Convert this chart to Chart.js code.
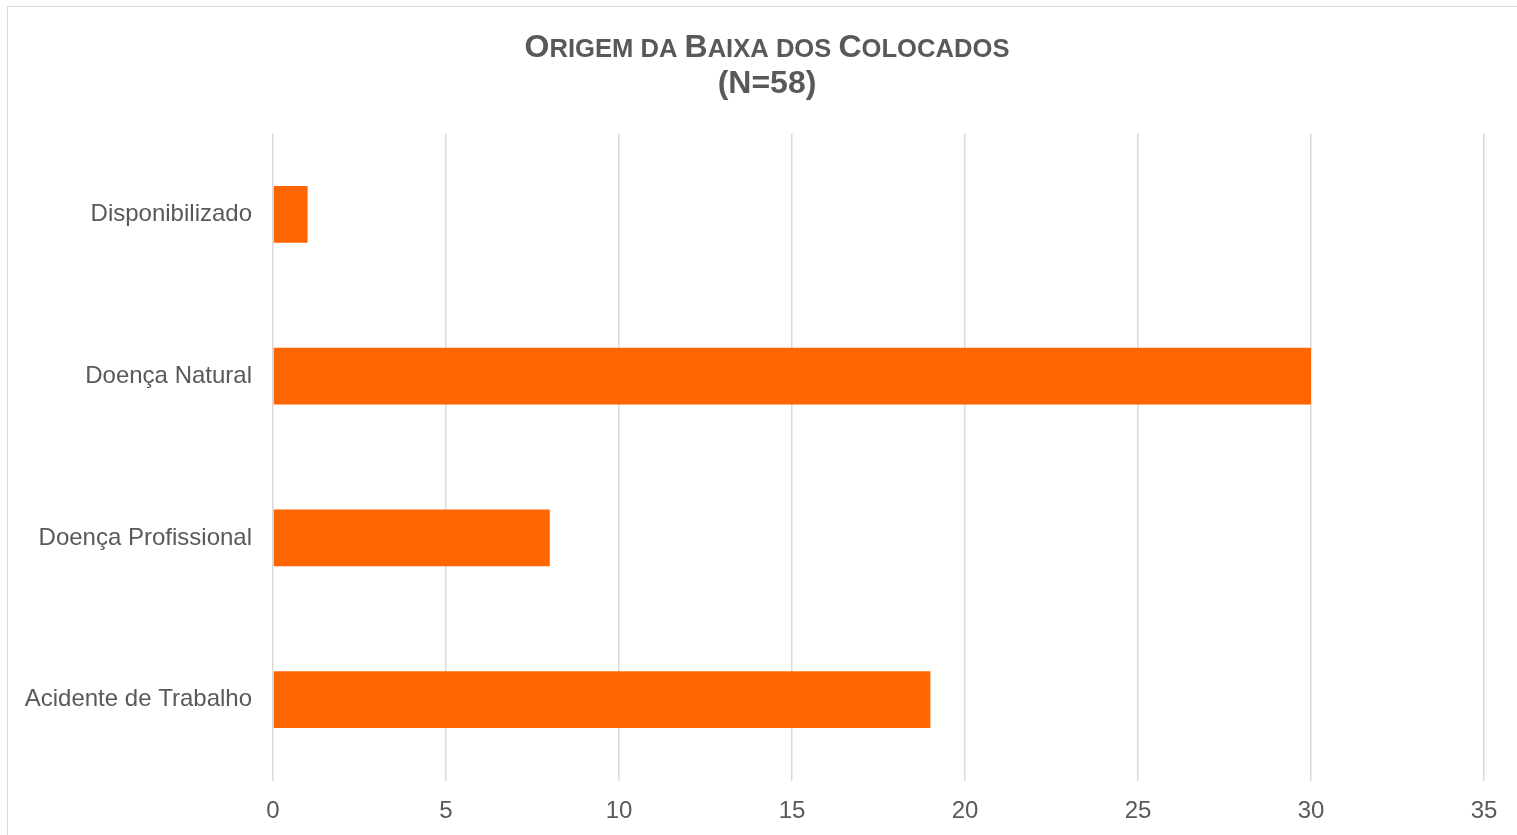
<!DOCTYPE html>
<html lang="pt">
<head>
<meta charset="utf-8">
<title>Origem da Baixa dos Colocados</title>
<script src="https://cdn.jsdelivr.net/npm/chart.js@4.4.1/dist/chart.umd.min.js"></script>
<style>
  html, body { margin: 0; padding: 0; background: #fff; overflow: hidden; }
  #chartBox {
    position: absolute;
    left: 7px;
    top: 6px;
    width: 1518px;
    height: 860px;
    border: 1px solid #d9d9d9;
    background: #fff;
  }
  #chartBox canvas { display: block; }
</style>
</head>
<body>
<div id="chartBox">
  <canvas id="baixaChart" width="1518" height="860"></canvas>
</div>
<script>
// Origem da baixa dos colocados, N = 58
const categorias = ['Disponibilizado', 'Doença Natural', 'Doença Profissional', 'Acidente de Trabalho'];
const quantidades = [1, 30, 8, 19];
const eixoMin = 0;
const eixoMax = 35;
const eixoPasso = 5;

const total = quantidades.reduce((a, b) => a + b, 0);
const tituloLinha1 = 'Origem da Baixa dos Colocados';
const tituloLinha2 = '(N=' + total + ')';

const textoCinza = '#595959';
const linhaCinza = '#d9d9d9';
const laranja = '#ff6600';
const familia = '"Liberation Sans", Arial, Helvetica, sans-serif';

// Title line 1 in small caps (lowercase drawn as smaller capitals)
const tituloVersalete = {
    id: 'tituloVersalete',
    afterDraw(chart) {
        const c = chart.ctx;
        const cx = chart.width / 2;
        const fonteGrande = 'bold 32px ' + familia;
        const fontePequena = 'bold 25.6px ' + familia;

        c.save();
        c.fillStyle = textoCinza;
        c.textAlign = 'left';
        c.textBaseline = 'alphabetic';

        const pecas = [];
        for (const ch of tituloLinha1) {
            const grande = ch !== ' ' && ch === ch.toUpperCase();
            c.font = grande ? fonteGrande : fontePequena;
            const txt = ch.toUpperCase();
            pecas.push({ txt: txt, font: c.font, w: c.measureText(txt).width });
        }
        const largura = pecas.reduce((s, p) => s + p.w, 0);
        let x = cx - largura / 2;
        for (const p of pecas) {
            c.font = p.font;
            c.fillText(p.txt, x, 49.5);
            x += p.w;
        }

        // line 2: sample size
        c.font = fonteGrande;
        c.textAlign = 'center';
        c.fillText(tituloLinha2, cx, 85.5);
        c.restore();
    }
};

const ctx = document.getElementById('baixaChart').getContext('2d');

let baixaChart = new Chart(ctx, {
    type: 'bar',
    data: {
        labels: categorias,
        datasets: [{
            label: 'Colocados',
            data: quantidades,
            backgroundColor: laranja,
            borderWidth: 0,
            barPercentage: 1,
            categoryPercentage: 0.352
        }]
    },
    options: {
        indexAxis: 'y',
        responsive: false,
        animation: false,
        layout: {
            padding: { left: 0, right: 42, top: 126.5, bottom: 0 }
        },
        plugins: {
            legend: { display: false },
            tooltip: { enabled: false },
            title: { display: false }
        },
        scales: {
            x: {
                min: eixoMin,
                max: eixoMax,
                border: { display: false },
                grid: {
                    color: linhaCinza,
                    lineWidth: 1.5,
                    drawTicks: false
                },
                ticks: {
                    stepSize: eixoPasso,
                    color: textoCinza,
                    font: { family: familia, size: 24 },
                    padding: 16
                },
                afterFit: function(scale) {
                    scale.height = 86.5;
                }
            },
            y: {
                border: { display: false },
                grid: { display: false, drawTicks: false },
                ticks: {
                    color: textoCinza,
                    font: { family: familia, size: 24 },
                    padding: 21
                },
                afterFit: function(scale) {
                    scale.width = 265;
                }
            }
        }
    },
    plugins: [tituloVersalete]
});
</script>
</body>
</html>
